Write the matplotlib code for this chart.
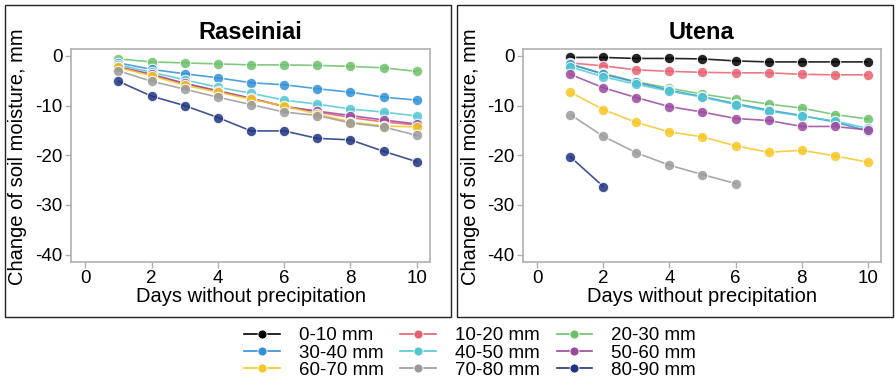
import matplotlib
matplotlib.use("Agg")
import matplotlib.pyplot as plt
from matplotlib.lines import Line2D
from matplotlib.patches import Rectangle

plt.rcParams['font.family'] = ['Liberation Sans', 'DejaVu Sans']
plt.rcParams['axes.unicode_minus'] = False

days = [1, 2, 3, 4, 5, 6, 7, 8, 9, 10]
layers = ["0-10 mm", "10-20 mm", "20-30 mm", "30-40 mm", "40-50 mm",
          "50-60 mm", "60-70 mm", "70-80 mm", "80-90 mm"]
colors = ["#000000", "#E8606E", "#6CC06A", "#2F91D8", "#52C7D2",
          "#9A489E", "#F6C623", "#9A9A9A", "#1F3481"]

# Raseiniai station (no 0-10 mm series)
ras_10_20 = [-2.2, -3.8, -5.6, -7.1, -8.6, -10.1, -11.3, -12.4, -13.3, -13.9]
ras_20_30 = [-0.6, -1.2, -1.4, -1.6, -1.8, -1.8, -1.9, -2.1, -2.4, -3.1]
ras_30_40 = [-1.4, -2.7, -3.6, -4.4, -5.4, -5.8, -6.6, -7.3, -8.3, -8.9]
ras_40_50 = [-1.8, -3.3, -4.8, -6.3, -7.5, -8.9, -9.7, -10.7, -11.3, -12.1]
ras_50_60 = [-2.2, -3.7, -5.5, -7.0, -8.5, -10.2, -11.1, -12.0, -12.9, -13.7]
ras_60_70 = [-2.3, -4.0, -5.9, -7.3, -8.7, -10.1, -11.7, -13.3, -14.1, -14.3]
ras_70_80 = [-3.0, -5.1, -6.7, -8.3, -9.8, -11.3, -12.0, -13.5, -14.3, -16.0]
ras_80_90 = [-5.1, -8.1, -10.0, -12.4, -15.1, -15.1, -16.6, -16.9, -19.2, -21.3]

# Utena station
ute_0_10 = [-0.3, -0.3, -0.5, -0.5, -0.6, -1.0, -1.2, -1.2, -1.2, -1.2]
ute_10_20 = [-1.4, -2.0, -2.8, -3.1, -3.3, -3.4, -3.4, -3.7, -3.8, -3.8]
ute_20_30 = [-1.8, -3.5, -5.2, -6.5, -7.7, -8.7, -9.7, -10.5, -11.8, -12.7]
ute_30_40 = [-1.6, -3.7, -5.3, -6.9, -8.2, -9.6, -10.9, -12.0, -13.3, -15.1]
ute_40_50 = [-2.2, -4.2, -5.7, -7.1, -8.3, -9.8, -11.1, -12.1, -13.1, -14.6]
ute_50_60 = [-3.7, -6.4, -8.4, -10.2, -11.3, -12.6, -13.0, -14.2, -14.2, -14.9]
ute_60_70 = [-7.3, -10.8, -13.4, -15.3, -16.3, -18.1, -19.4, -19.0, -20.1, -21.4]
ute_70_80 = [-11.8, -16.2, -19.5, -22.0, -23.9, -25.7]
ute_80_90 = [-20.3, -26.3]

stations = [
    ("Raseiniai", [None, ras_10_20, ras_20_30, ras_30_40, ras_40_50,
                   ras_50_60, ras_60_70, ras_70_80, ras_80_90]),
    ("Utena", [ute_0_10, ute_10_20, ute_20_30, ute_30_40, ute_40_50,
               ute_50_60, ute_60_70, ute_70_80, ute_80_90]),
]

W, H = 896, 386
fig = plt.figure(figsize=(W / 100, H / 100), dpi=100)

def fx(px):
    return px / W

def fy(py):
    return 1 - py / H

# outer panel frames
for x0, x1 in [(5, 451), (457, 893)]:
    fig.patches.append(Rectangle((fx(x0), fy(317)), fx(x1 - x0), (317 - 5) / H,
                                 transform=fig.transFigure, fill=False,
                                 edgecolor="#222222", linewidth=1.0))

axes_px = [(71, 430), (523, 881)]
spine_col = "#B0B0B0"

for (name, series), (l, r) in zip(stations, axes_px):
    ax = fig.add_axes([fx(l), fy(262), fx(r - l), (262 - 49) / H])
    for vals, col in zip(series, colors):
        if vals is None:
            continue
        ax.plot(days[:len(vals)], vals, color=col, lw=1.2, alpha=0.85,
                marker="o", ms=7.5, mfc=col, mec="white", mew=0.8, zorder=3)
    ax.set_xlim(-0.43, 10.4)
    ax.set_ylim(-41.5, 1.4)
    ax.set_xticks([0, 2, 4, 6, 8, 10])
    ax.set_yticks([0, -10, -20, -30, -40])
    for s in ax.spines.values():
        s.set_color(spine_col)
        s.set_linewidth(1.2)
    ax.tick_params(colors=spine_col, labelcolor="black", labelsize=13.5,
                   length=4, width=1.0, pad=2)
    ax.set_xlabel("Days without precipitation", fontsize=14.5, labelpad=0)
    ax.set_title(name, fontsize=17, fontweight="bold", pad=7)

fig.text(fx(18), fy(157), "Change of soil moisture, mm", rotation=90,
         fontsize=14.5, ha="center", va="center")
fig.text(fx(470), fy(157), "Change of soil moisture, mm", rotation=90,
         fontsize=14.5, ha="center", va="center")

handles = [Line2D([], [], color=c, lw=1.2, marker="o", ms=6.5, mfc=c,
                  mec="white", mew=0.6) for c in colors]
order = [0, 3, 6, 1, 4, 7, 2, 5, 8]
fig.legend([handles[i] for i in order], [layers[i] for i in order],
           ncol=3, loc="center", bbox_to_anchor=(fx(470), fy(353)),
           frameon=False, fontsize=13.5, handlelength=1.9, handletextpad=1.0,
           columnspacing=0.9, labelspacing=0.0, borderpad=0)

fig.savefig("out.png", dpi=100)
